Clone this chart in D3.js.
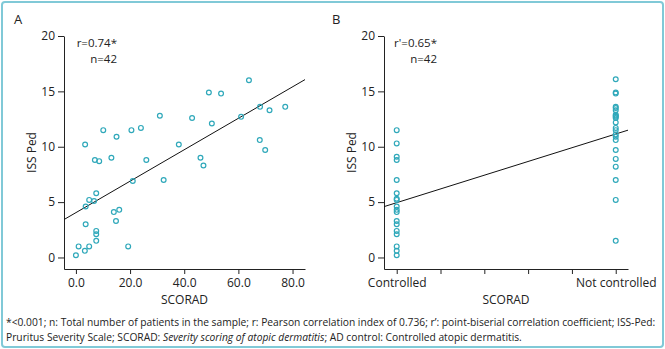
<!DOCTYPE html>
<html>
<head>
<meta charset="utf-8">
<script src="https://cdn.jsdelivr.net/npm/d3@7"></script>
<style>
  body { margin: 0; background: #fff; }
  svg { display: block; font-family: "Open Sans", sans-serif; }
</style>
</head>
<body>
<div id="chart"></div>
<script>
// Panel A: SCORAD vs ISS-Ped
const scoradA = [0, 1.0, 3.3, 4.9, 3.6, 3.6, 3.4, 4.9, 6.7, 7.5, 7.5, 7.5, 7.5, 7.0, 8.6,
  10.1, 13.1, 14.0, 15.0, 14.8, 16.0, 19.3, 20.5, 21.0, 24.0, 26.0, 31.0, 32.4, 38.0,
  42.9, 46.0, 47.1, 49.1, 50.2, 53.6, 61.0, 63.9, 68.0, 67.9, 69.9, 71.5, 77.3];
const issA = [0.2, 1.0, 0.6, 1.0, 3.0, 4.6, 10.2, 5.2, 5.1, 5.8, 2.4, 2.1, 1.5, 8.8, 8.7,
  11.5, 9.0, 4.1, 10.9, 3.3, 4.3, 1.0, 11.5, 6.9, 11.7, 8.8, 12.8, 7.0, 10.2,
  12.6, 9.0, 8.3, 14.9, 12.1, 14.8, 12.7, 16.0, 13.6, 10.6, 9.7, 13.3, 13.6];
const fitA = [4.05, 0.142];          // intercept, slope
const xTicksA = [0, 20, 40, 60, 80];

// Panel B: AD control vs ISS-Ped
const groupsB = ['Controlled', 'Not controlled'];
const issControlled = [11.5, 10.3, 9.1, 8.8, 7.0, 5.8, 5.3, 5.2, 4.6, 4.3, 4.1, 3.3, 3.0,
  2.4, 2.1, 1.0, 0.6, 0.2];
const issNotControlled = [16.1, 14.9, 14.8, 13.6, 13.5, 13.3, 12.9, 12.8, 12.7, 12.6, 12.2,
  11.7, 11.5, 11.1, 10.9, 10.6, 9.7, 8.9, 8.2, 7.0, 5.2, 1.5];
const fitB = [4.95, 6.2];
const xTicksB = [0, 0.2, 0.4, 0.6, 0.8, 1.0];

const yTicks = [0, 5, 10, 15, 20];

const W = 665, H = 349;
const teal = '#2fa8ba';

const svg = d3.select('#chart').append('svg')
  .attr('width', W).attr('height', H);

svg.append('rect')
  .attr('x', 2).attr('y', 2)
  .attr('width', W - 4).attr('height', H - 4)
  .attr('rx', 3)
  .attr('fill', 'none')
  .attr('stroke', '#80c9d7')
  .attr('stroke-width', 2);

function drawPanel(opt) {
  const g = svg.append('g');
  const x = d3.scaleLinear().domain(opt.xDomain).range([opt.left, opt.right]);
  const y = d3.scaleLinear().domain([-1.04, 20]).range([269, 36]);

  // y axis
  g.append('g')
    .attr('transform', `translate(${opt.left},0)`)
    .call(d3.axisLeft(y).tickValues(yTicks).tickSize(6).tickPadding(3).tickSizeOuter(0))
    .call(a => a.selectAll('text').attr('font-size', 12).attr('fill', '#222')
      .attr('font-family', '"Open Sans", sans-serif'));

  // x axis
  g.append('g')
    .attr('transform', 'translate(0,269)')
    .call(d3.axisBottom(x).tickValues(opt.xTicks).tickSize(5).tickPadding(4)
      .tickSizeOuter(0).tickFormat(opt.xFormat))
    .call(a => a.selectAll('text').attr('font-size', 12).attr('fill', '#222')
      .attr('font-family', '"Open Sans", sans-serif'));

  g.selectAll('.domain, .tick line').attr('stroke', '#222');

  // regression line
  const [b0, b1] = opt.fit;
  g.append('line')
    .attr('x1', x(opt.xDomain[0])).attr('y1', y(b0 + b1 * opt.xDomain[0]))
    .attr('x2', x(opt.xDomain[1])).attr('y2', y(b0 + b1 * opt.xDomain[1]))
    .attr('stroke', '#111').attr('stroke-width', 1);

  // points
  g.selectAll('circle.pt')
    .data(opt.points)
    .enter().append('circle')
    .attr('class', 'pt')
    .attr('cx', d => x(d[0]))
    .attr('cy', d => y(d[1]))
    .attr('r', 2.4)
    .attr('fill', 'none')
    .attr('stroke', teal)
    .attr('stroke-width', 1.2);

  // labels
  g.append('text')
    .attr('x', opt.letterX).attr('y', 24)
    .attr('font-size', 13).attr('fill', '#222')
    .text(opt.letter);

  g.append('text')
    .attr('transform', `translate(${opt.left - 28},${(36 + 269) / 2}) rotate(-90)`)
    .attr('text-anchor', 'middle')
    .attr('font-size', 12).attr('fill', '#222')
    .text('ISS Ped');

  g.append('text')
    .attr('x', (opt.left + opt.right) / 2).attr('y', 304)
    .attr('text-anchor', 'middle')
    .attr('font-size', 12).attr('fill', '#222')
    .text('SCORAD');

  // r and n, right-aligned, a touch smaller so the two lines don't collide
  g.append('text')
    .attr('x', opt.statX).attr('y', 46.5)
    .attr('text-anchor', 'end')
    .attr('font-size', 11.5).attr('fill', '#222')
    .text(opt.stat);
  g.append('text')
    .attr('x', opt.statX).attr('y', 62.5)
    .attr('text-anchor', 'end')
    .attr('font-size', 11.5).attr('fill', '#222')
    .text('n=42');
}

drawPanel({
  letter: 'A', letterX: 14,
  left: 64, right: 305,
  xDomain: [-4.4, 84.6],
  xTicks: xTicksA,
  xFormat: d3.format('.1f'),
  fit: fitA,
  points: scoradA.map((s, i) => [s, issA[i]]),
  stat: 'r=0.74*', statX: 117
});

drawPanel({
  letter: 'B', letterX: 332,
  left: 384, right: 628,
  xDomain: [-0.058, 1.056],
  xTicks: xTicksB,
  xFormat: d => d === 0 ? groupsB[0] : (d === 1 ? groupsB[1] : ''),
  fit: fitB,
  points: issControlled.map(v => [0, v]).concat(issNotControlled.map(v => [1, v])),
  stat: "r'=0.65*", statX: 437
});

// footnote
const note = svg.append('g')
  .attr('font-family', '"Open Sans", sans-serif')
  .attr('fill', '#222');

const line1 = note.append('text').attr('x', 6).attr('y', 326).attr('font-size', 11)
  .text("*<0.001; n: Total number of patients in the sample; r: Pearson correlation index of 0.736; r’: point-biserial correlation coefficient; ISS-Ped:");
const line2 = note.append('text').attr('x', 6).attr('y', 341).attr('font-size', 11);
line2.append('tspan').text('Pruritus Severity Scale; SCORAD: ');
line2.append('tspan').attr('font-style', 'italic').text('Severity scoring of atopic dermatitis');
line2.append('tspan').text('; AD control: Controlled atopic dermatitis.');

// fit the footnote to the width used in the figure
const fs = 11 * 650 / line1.node().getComputedTextLength();
line1.attr('font-size', fs);
line2.attr('font-size', fs);
</script>
</body>
</html>
